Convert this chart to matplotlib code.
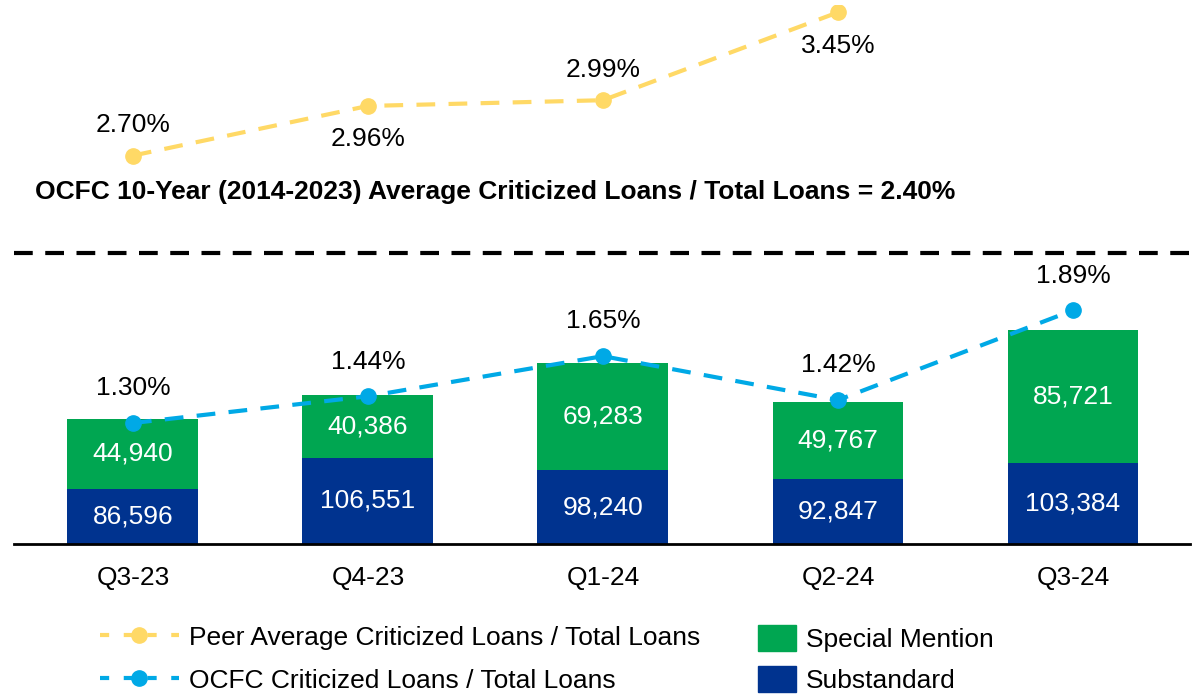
import matplotlib.pyplot as plt
from matplotlib.lines import Line2D
from matplotlib.patches import Patch
import numpy as np

plt.rcParams['font.family'] = ['Liberation Sans', 'DejaVu Sans']

quarters = ['Q3-23', 'Q4-23', 'Q1-24', 'Q2-24', 'Q3-24']
substandard = [86596, 106551, 98240, 92847, 103384]
special_mention = [44940, 40386, 69283, 49767, 85721]
ocfc_ratio = [1.30, 1.44, 1.65, 1.42, 1.89]
peer_ratio = [2.70, 2.96, 2.99, 3.45]
peer_label_pos = ['above', 'below', 'above', 'below']

GREEN = '#00A651'
NAVY = '#00338F'
SKY = '#00A9E6'
GOLD = '#FFD966'
FS = 19

fig = plt.figure(figsize=(12.01, 6.95), dpi=100)
ax = fig.add_axes([14 / 1201, 151 / 695, 1176 / 1201, 539 / 695])
x = np.arange(len(quarters))
w = 0.557

ax.bar(x, substandard, w, color=NAVY)
ax.bar(x, special_mention, w, bottom=substandard, color=GREEN)

ax.set_ylim(50700, 50700 + 539 * 646.8)
ax.set_xlim(-0.506, 4.498)

# white labels inside the segments
for i in range(len(x)):
    y1 = (50700 + substandard[i]) / 2
    ax.text(x[i], y1, f"{substandard[i]:,}", ha='center', va='center', color='white', fontsize=FS)
    y2 = substandard[i] + special_mention[i] / 2
    ax.text(x[i], y2, f"{special_mention[i]:,}", ha='center', va='center', color='white', fontsize=FS)

for s in ['top', 'right', 'left']:
    ax.spines[s].set_visible(False)
ax.spines['bottom'].set_linewidth(2)
ax.set_yticks([])
ax.set_xticks(x)
ax.set_xticklabels(quarters, fontsize=FS)
ax.tick_params(axis='x', length=0, pad=16)

# percentages on a second scale
ax2 = ax.twinx()
ax2.set_ylim(0.6665, 0.6665 + 539 / 191)
ax2.axis('off')

ax2.plot(x, ocfc_ratio, color=SKY, lw=3, dashes=(4.5, 3.2), marker='o', ms=11)
ax2.plot(x[:len(peer_ratio)], peer_ratio, color=GOLD, lw=3, dashes=(4.5, 3.2), marker='o', ms=11)

for i, v in enumerate(ocfc_ratio):
    ax2.annotate(f"{v:.2f}%", (x[i], v), xytext=(0, 25), textcoords='offset points',
                 ha='center', va='center', fontsize=FS)
for i, v in enumerate(peer_ratio):
    off = 22 if peer_label_pos[i] == 'above' else -24
    ax2.annotate(f"{v:.2f}%", (x[i], v), xytext=(0, off), textcoords='offset points',
                 ha='center', va='center', fontsize=FS)

fig.add_artist(Line2D([14 / 1201, 1190 / 1201], [442 / 695, 442 / 695], color='black',
                      lw=3, dashes=(4.5, 3)))
fig.text(35 / 1201, 503 / 695, "OCFC 10-Year (2014-2023) Average Criticized Loans / Total Loans = 2.40%",
         fontsize=FS, fontweight='bold', ha='left', va='center')

line_handles = [
    Line2D([], [], color=GOLD, lw=3, dashes=(2.2, 3.5), marker='o', ms=11),
    Line2D([], [], color=SKY, lw=3, dashes=(2.2, 3.5), marker='o', ms=11),
]
fig.legend(line_handles, ['Peer Average Criticized Loans / Total Loans', 'OCFC Criticized Loans / Total Loans'],
           loc='center left', bbox_to_anchor=(76 / 1201, 36 / 695), frameon=False, fontsize=FS,
           handlelength=3.0, labelspacing=0.72, handletextpad=0.4)
patch_handles = [Patch(color=GREEN), Patch(color=NAVY)]
fig.legend(patch_handles, ['Special Mention', 'Substandard'],
           loc='center left', bbox_to_anchor=(734 / 1201, 36 / 695), frameon=False, fontsize=FS,
           handlelength=1.44, handleheight=1.14, labelspacing=0.5, handletextpad=0.4)

fig.savefig('out.png', dpi=100)
